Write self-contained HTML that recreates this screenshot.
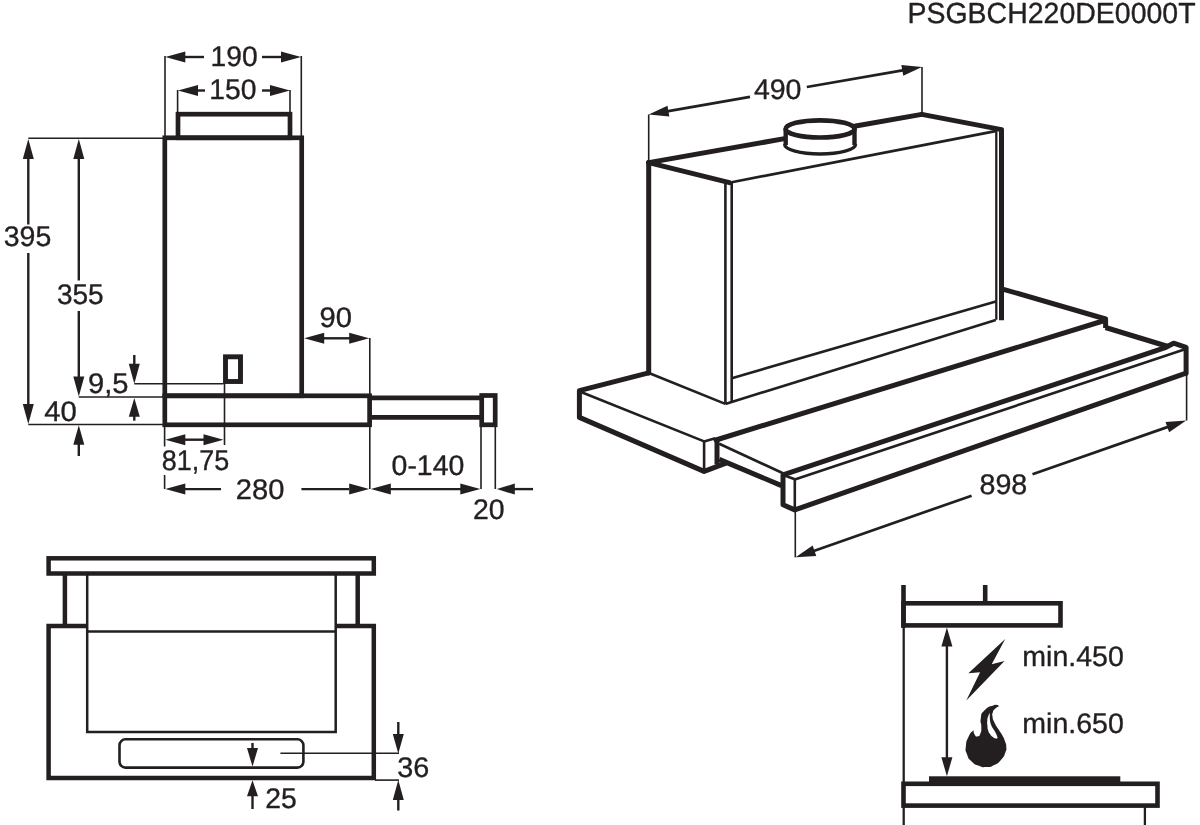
<!DOCTYPE html>
<html lang="en">
<head>
<meta charset="utf-8">
<title>PSGBCH220DE0000T</title>
<style>
html,body{margin:0;padding:0;background:#fff;}
body{width:1200px;height:825px;overflow:hidden;}
svg{display:block;will-change:transform;}
svg text{font-family:"Liberation Sans",sans-serif;fill:#231f20;stroke:#231f20;stroke-width:0.35px;stroke-linejoin:round;text-rendering:geometricPrecision;}
</style>
</head>
<body>
<svg width="1200" height="825" viewBox="0 0 1200 825" stroke="#231f20" fill="none">
<text transform="translate(907.47,23.11) scale(0.9994,1.02)" font-size="28.5">PSGBCH220DE0000T</text>
<rect x="178" y="114.2" width="112" height="23.6" rx="0" fill="none" stroke-width="4.7"/>
<rect x="164.8" y="137.8" width="136.9" height="258.0" rx="0" fill="none" stroke-width="4.7"/>
<rect x="164.8" y="395.8" width="204.8" height="29.0" rx="0" fill="none" stroke-width="4.7"/>
<line x1="369.6" y1="397.8" x2="481.7" y2="397.8" stroke-width="4.7" stroke-linecap="butt"/>
<line x1="369.6" y1="417.3" x2="481.7" y2="417.3" stroke-width="4.7" stroke-linecap="butt"/>
<rect x="481.7" y="395.5" width="13.5" height="29.3" rx="0" fill="none" stroke-width="4.7"/>
<rect x="225.5" y="356.8" width="15.0" height="24.7" rx="0" fill="none" stroke-width="4.9"/>
<line x1="165" y1="56" x2="165" y2="137" stroke-width="1.6" stroke-linecap="butt"/>
<line x1="301.3" y1="56" x2="301.3" y2="137" stroke-width="1.6" stroke-linecap="butt"/>
<polygon points="165.3,57 185.3,51.5 185.3,62.5" fill="#231f20" stroke="none"/>
<polygon points="301,57 281.0,62.5 281.0,51.5" fill="#231f20" stroke="none"/>
<line x1="185" y1="57" x2="204" y2="57" stroke-width="2.4000000000000004" stroke-linecap="butt"/>
<line x1="262" y1="57" x2="282" y2="57" stroke-width="2.4000000000000004" stroke-linecap="butt"/>
<text transform="translate(210.58,66.47) scale(0.9941,1.0)" font-size="28.4">190</text>
<line x1="177.6" y1="90" x2="177.6" y2="113" stroke-width="1.6" stroke-linecap="butt"/>
<line x1="290" y1="90" x2="290" y2="113" stroke-width="1.6" stroke-linecap="butt"/>
<polygon points="178,90.5 198.0,85.0 198.0,96.0" fill="#231f20" stroke="none"/>
<polygon points="290,90.5 270.0,96.0 270.0,85.0" fill="#231f20" stroke="none"/>
<line x1="197" y1="90.5" x2="205" y2="90.5" stroke-width="2.4000000000000004" stroke-linecap="butt"/>
<line x1="262" y1="90.5" x2="271" y2="90.5" stroke-width="2.4000000000000004" stroke-linecap="butt"/>
<text transform="translate(209.18,99.02) scale(0.9963,1.0)" font-size="28.4">150</text>
<line x1="28.3" y1="138.3" x2="163" y2="138.3" stroke-width="1.6" stroke-linecap="butt"/>
<line x1="28.3" y1="424.5" x2="163" y2="424.5" stroke-width="1.6" stroke-linecap="butt"/>
<polygon points="28.3,139 33.8,159.0 22.8,159.0" fill="#231f20" stroke="none"/>
<polygon points="28.3,424 22.8,404.0 33.8,404.0" fill="#231f20" stroke="none"/>
<line x1="28.3" y1="157" x2="28.3" y2="224.5" stroke-width="2.4000000000000004" stroke-linecap="butt"/>
<line x1="28.3" y1="253" x2="28.3" y2="406" stroke-width="2.4000000000000004" stroke-linecap="butt"/>
<text transform="translate(3.76,245.92) scale(1.0041,1.0)" font-size="28.4">395</text>
<line x1="78.8" y1="397" x2="163" y2="397" stroke-width="1.6" stroke-linecap="butt"/>
<polygon points="78.8,139 84.3,159.0 73.3,159.0" fill="#231f20" stroke="none"/>
<polygon points="78.8,396.5 73.3,376.5 84.3,376.5" fill="#231f20" stroke="none"/>
<line x1="78.8" y1="157" x2="78.8" y2="280.5" stroke-width="2.4000000000000004" stroke-linecap="butt"/>
<line x1="78.8" y1="311" x2="78.8" y2="378" stroke-width="2.4000000000000004" stroke-linecap="butt"/>
<text transform="translate(56.88,304.02) scale(0.9886,1.0)" font-size="28.4">355</text>
<text transform="translate(44.27,420.97) scale(1.0312,1.0)" font-size="28.4">40</text>
<polygon points="78.8,425.2 84.3,444.8 73.3,444.8" fill="#231f20" stroke="none"/>
<line x1="78.8" y1="443" x2="78.8" y2="456" stroke-width="2.4000000000000004" stroke-linecap="butt"/>
<text transform="translate(87.99,393.42) scale(1.0253,1.0)" font-size="28.4">9,5</text>
<line x1="134.3" y1="383.8" x2="223.5" y2="383.8" stroke-width="1.6" stroke-linecap="butt"/>
<polygon points="134.3,383.8 128.8,363.8 139.8,363.8" fill="#231f20" stroke="none"/>
<line x1="134.3" y1="355" x2="134.3" y2="365" stroke-width="2.4000000000000004" stroke-linecap="butt"/>
<polygon points="134.3,398 139.8,416.7 128.8,416.7" fill="#231f20" stroke="none"/>
<line x1="134.3" y1="415" x2="134.3" y2="420.7" stroke-width="2.4000000000000004" stroke-linecap="butt"/>
<line x1="224.5" y1="383" x2="224.5" y2="445" stroke-width="1.6" stroke-linecap="butt"/>
<line x1="164.6" y1="426" x2="164.6" y2="446.5" stroke-width="1.6" stroke-linecap="butt"/>
<polygon points="165.3,439.7 185.3,434.2 185.3,445.2" fill="#231f20" stroke="none"/>
<polygon points="223.5,439.7 203.5,445.2 203.5,434.2" fill="#231f20" stroke="none"/>
<line x1="185" y1="439.7" x2="205" y2="439.7" stroke-width="2.4000000000000004" stroke-linecap="butt"/>
<text transform="translate(161.69,470.32) scale(0.9492,1.0)" font-size="28.4">81,75</text>
<line x1="164.6" y1="475" x2="164.6" y2="489" stroke-width="1.6" stroke-linecap="butt"/>
<polygon points="165.3,489.1 185.3,483.6 185.3,494.6" fill="#231f20" stroke="none"/>
<line x1="185" y1="489.1" x2="221" y2="489.1" stroke-width="2.4000000000000004" stroke-linecap="butt"/>
<text transform="translate(235.84,498.72) scale(1.0251,1.0)" font-size="28.4">280</text>
<line x1="301.4" y1="489.1" x2="349" y2="489.1" stroke-width="2.4000000000000004" stroke-linecap="butt"/>
<polygon points="369.2,489.1 349.2,494.6 349.2,483.6" fill="#231f20" stroke="none"/>
<line x1="369.8" y1="338" x2="369.8" y2="489" stroke-width="1.6" stroke-linecap="butt"/>
<line x1="481" y1="426" x2="481" y2="489" stroke-width="1.6" stroke-linecap="butt"/>
<polygon points="370.8,489.1 390.8,483.6 390.8,494.6" fill="#231f20" stroke="none"/>
<polygon points="480.3,489.1 460.3,494.6 460.3,483.6" fill="#231f20" stroke="none"/>
<line x1="390" y1="489.1" x2="461" y2="489.1" stroke-width="2.4000000000000004" stroke-linecap="butt"/>
<text transform="translate(391.56,474.82) scale(1.0024,1.0)" font-size="28.4">0-140</text>
<line x1="495.3" y1="426" x2="495.3" y2="489" stroke-width="1.6" stroke-linecap="butt"/>
<polygon points="496.8,489.1 514.8,483.6 514.8,494.6" fill="#231f20" stroke="none"/>
<line x1="514" y1="489.1" x2="533" y2="489.1" stroke-width="2.4000000000000004" stroke-linecap="butt"/>
<text transform="translate(473.08,519.32) scale(0.9997,1.0)" font-size="28.4">20</text>
<polygon points="304.2,338.3 324.2,332.8 324.2,343.8" fill="#231f20" stroke="none"/>
<polygon points="369.2,338.3 349.2,343.8 349.2,332.8" fill="#231f20" stroke="none"/>
<line x1="323" y1="338.3" x2="350" y2="338.3" stroke-width="2.4000000000000004" stroke-linecap="butt"/>
<text transform="translate(319.59,326.72) scale(1.0256,1.0)" font-size="28.4">90</text>
<rect x="48.6" y="558.3" width="325.2" height="15.2" rx="0" fill="none" stroke-width="4.5"/>
<polyline points="87.1,626 48.6,626 48.6,778 373.8,778 373.8,626 335.7,626" fill="none" stroke-width="4.5" stroke-linejoin="miter" stroke-linecap="butt"/>
<line x1="64.9" y1="573.5" x2="64.9" y2="626" stroke-width="4.5" stroke-linecap="butt"/>
<line x1="357.7" y1="573.5" x2="357.7" y2="626" stroke-width="4.5" stroke-linecap="butt"/>
<polyline points="87.2,573.5 87.2,732.1 335.7,732.1 335.7,573.5" fill="none" stroke-width="2.5" stroke-linejoin="miter" stroke-linecap="butt"/>
<line x1="87.2" y1="631.4" x2="335.7" y2="631.4" stroke-width="2.5" stroke-linecap="butt"/>
<rect x="119.5" y="739.3" width="183.9" height="28.3" rx="6" fill="none" stroke-width="2.6"/>
<polygon points="252.5,766.6 247.0,748.1 258.0,748.1" fill="#231f20" stroke="none"/>
<line x1="252.5" y1="743" x2="252.5" y2="750" stroke-width="2.4000000000000004" stroke-linecap="butt"/>
<polygon points="252.5,780.3 258.0,796.3 247.0,796.3" fill="#231f20" stroke="none"/>
<line x1="252.5" y1="795" x2="252.5" y2="809" stroke-width="2.4000000000000004" stroke-linecap="butt"/>
<text transform="translate(265.28,807.92) scale(0.9977,1.0)" font-size="28.4">25</text>
<line x1="280.4" y1="753.2" x2="399" y2="753.2" stroke-width="1.6" stroke-linecap="butt"/>
<line x1="375" y1="780.1" x2="399" y2="780.1" stroke-width="1.6" stroke-linecap="butt"/>
<polygon points="398.3,753.4 392.8,733.9 403.8,733.9" fill="#231f20" stroke="none"/>
<line x1="398.3" y1="722" x2="398.3" y2="736" stroke-width="2.4000000000000004" stroke-linecap="butt"/>
<polygon points="398.3,780.1 403.8,800.1 392.8,800.1" fill="#231f20" stroke="none"/>
<line x1="398.3" y1="798" x2="398.3" y2="810.5" stroke-width="2.4000000000000004" stroke-linecap="butt"/>
<text transform="translate(397.15,776.52) scale(1.0153,1.0)" font-size="28.4">36</text>
<line x1="903.5" y1="585" x2="903.5" y2="627.7" stroke-width="4.6" stroke-linecap="butt"/>
<line x1="903.7" y1="626" x2="903.7" y2="825" stroke-width="2.3" stroke-linecap="butt"/>
<rect x="903.5" y="603.3" width="157.0" height="22.1" rx="0" fill="none" stroke-width="4.6"/>
<line x1="985.2" y1="585" x2="985.2" y2="603.3" stroke-width="4.6" stroke-linecap="butt"/>
<line x1="946.9" y1="640" x2="946.9" y2="760" stroke-width="2.4000000000000004" stroke-linecap="butt"/>
<polygon points="946.9,627.6 952.4,646.6 941.4,646.6" fill="#231f20" stroke="none"/>
<polygon points="946.9,776.3 941.4,757.3 952.4,757.3" fill="#231f20" stroke="none"/>
<rect x="929" y="776.3" width="191.3" height="7.5" fill="#231f20" stroke="none"/>
<rect x="903.5" y="783.8" width="254.0" height="21.8" rx="0" fill="none" stroke-width="4.6"/>
<line x1="1144.9" y1="807" x2="1144.9" y2="825" stroke-width="2.3" stroke-linecap="butt"/>
<text transform="translate(1022.35,665.92) scale(1.0049,1.0)" font-size="28.4">min.450</text>
<text transform="translate(1022.35,733.02) scale(1.0049,1.0)" font-size="28.4">min.650</text>
<polygon points="1005.2,639.1 968.4,673.3 980.1,672.2 966.3,700.4 1004.5,661.1 991.7,664.2" fill="#231f20" stroke="none"/>
<path d="M999.4,706.0 C997.40,705.80 998.43,703.90 993.4,705.4 C988.37,706.90 988.50,706.13 984.3,710.5 C980.10,714.87 981.80,713.17 980.8,718.5 C979.80,723.83 981.40,721.60 981.3,726.5 C981.20,731.40 981.77,729.90 980.5,733.2 C979.23,736.50 979.47,735.97 977.5,736.4 C975.53,736.83 975.93,736.57 974.6,734.5 C973.27,732.43 973.87,731.63 973.5,730.2 C971.93,732.20 971.33,730.93 968.8,736.2 C966.27,741.47 966.50,740.00 965.9,746 C965.30,752.00 965.07,749.03 967,754.2 C968.93,759.37 967.70,757.63 971.7,761.5 C975.70,765.37 974.13,763.93 979,765.8 C983.87,767.67 981.20,767.33 986.3,767.1 C991.40,766.87 989.23,767.70 994.3,765.1 C999.37,762.50 997.77,763.67 1001.5,759.3 C1005.23,754.93 1003.90,756.03 1005.5,752 C1007.10,747.97 1006.40,750.60 1006.3,747.2 C1006.20,743.80 1006.53,745.77 1005.2,741.8 C1003.87,737.83 1004.50,739.40 1002.3,735.3 C1000.10,731.20 1001.27,733.87 998.6,729.5 C995.93,725.13 996.33,726.53 994.3,722.2 C992.27,717.87 993.00,719.73 992.5,716.5 C992.00,713.27 992.03,715.00 992.8,712.5 C993.57,710.00 992.60,711.17 994.8,709.0 C997.00,706.83 997.87,707.00 999.4,706.0 Z" fill="#231f20" stroke="none"/>
<path d="M989.9,712.7 C989.33,713.87 989.07,713.53 988.2,716.2 C987.33,718.87 987.57,717.60 987.3,720.7 C987.03,723.80 987.10,722.23 987.4,725.5 C987.70,728.77 987.33,727.67 988.2,730.5 C989.07,733.33 988.47,731.83 990.0,734.0 C991.53,736.17 990.90,735.50 992.8,737.0 C994.70,738.50 994.07,738.17 995.7,738.5 C997.33,738.83 997.03,738.17 997.7,738.0 C997.13,736.50 997.23,736.17 996.0,733.5 C994.77,730.83 995.30,732.17 994.0,730.0 C992.70,727.83 993.20,729.13 992.1,727.0 C991.00,724.87 991.40,725.93 990.7,723.6 C990.00,721.27 990.30,722.53 990.0,720.0 C989.70,717.47 989.83,718.43 989.8,716.0 C989.77,713.57 989.87,713.80 989.9,712.7 Z" fill="#fff" stroke="none"/>
<line x1="648.7" y1="114.5" x2="648.7" y2="162" stroke-width="1.6" stroke-linecap="butt"/>
<line x1="922" y1="67" x2="922" y2="113.5" stroke-width="1.6" stroke-linecap="butt"/>
<polygon points="648.7,114.5 667.46,105.66 669.35,116.49" fill="#231f20" stroke="none"/>
<polygon points="922,67 903.24,75.84 901.35,65.01" fill="#231f20" stroke="none"/>
<line x1="667" y1="111.31942919868277" x2="750" y2="96.89388949871936" stroke-width="2.7" stroke-linecap="butt"/>
<line x1="806.8" y1="87.0219538968167" x2="904" y2="70.12843029637762" stroke-width="2.7" stroke-linecap="butt"/>
<text transform="translate(753.89,98.82) scale(1.0048,1.0)" font-size="28.4">490</text>
<line x1="648.6" y1="162.6" x2="784.5" y2="138.62" stroke-width="5.0" stroke-linecap="round"/>
<line x1="855.6" y1="126.08" x2="921.8" y2="114.4" stroke-width="5.0" stroke-linecap="round"/>
<line x1="648.6" y1="162.6" x2="729.5" y2="182.6" stroke-width="5.0" stroke-linecap="round"/>
<line x1="921.8" y1="114.4" x2="1001.5" y2="129.6" stroke-width="5.0" stroke-linecap="round"/>
<line x1="731.6" y1="182.2" x2="995.6" y2="131.1" stroke-width="2.6" stroke-linecap="butt"/>
<line x1="1001.5" y1="129.6" x2="1001.5" y2="320.3" stroke-width="5.0" stroke-linecap="butt"/>
<line x1="996.3" y1="131" x2="996.3" y2="319.8" stroke-width="2.3" stroke-linecap="butt"/>
<line x1="648.7" y1="162.6" x2="648.7" y2="373" stroke-width="5.0" stroke-linecap="round"/>
<line x1="725.4" y1="182.5" x2="725.4" y2="403.9" stroke-width="2.6" stroke-linecap="butt"/>
<line x1="731.7" y1="182.5" x2="731.7" y2="402" stroke-width="2.6" stroke-linecap="butt"/>
<line x1="725.3" y1="403.9" x2="995.8" y2="320.1" stroke-width="2.6" stroke-linecap="butt"/>
<line x1="731.8" y1="378.2" x2="995.8" y2="301.6" stroke-width="2.6" stroke-linecap="butt"/>
<line x1="649.5" y1="373.2" x2="725.3" y2="403.9" stroke-width="2.6" stroke-linecap="butt"/>
<ellipse cx="820.1" cy="128.9" rx="34.5" ry="8.6" fill="none" stroke-width="4.7"/>
<line x1="785.7" y1="128.6" x2="785.7" y2="145" stroke-width="4.4" stroke-linecap="butt"/>
<line x1="854.5" y1="128.6" x2="854.5" y2="145" stroke-width="4.4" stroke-linecap="butt"/>
<path d="M784.6,144.3 A35.4,9.6 0 0 0 855.6,144.3" fill="none" stroke-width="3.4"/>
<polyline points="648.6,372.8 579.4,390.7 579.4,417.4 704.1,471.4 725.3,463.4" fill="none" stroke-width="5.0" stroke-linejoin="round" stroke-linecap="round"/>
<line x1="581.6" y1="392.3" x2="704.1" y2="441.4" stroke-width="2.6" stroke-linecap="butt"/>
<line x1="704.1" y1="441.4" x2="704.1" y2="470.4" stroke-width="2.6" stroke-linecap="butt"/>
<line x1="704.1" y1="441.4" x2="715.2" y2="438.2" stroke-width="2.6" stroke-linecap="butt"/>
<line x1="717" y1="439" x2="717" y2="464.4" stroke-width="5.0" stroke-linecap="butt"/>
<line x1="716" y1="440" x2="1104.6" y2="320.5" stroke-width="5.0" stroke-linecap="round"/>
<polyline points="1003.5,289.3 1105.6,319 1105.6,328" fill="none" stroke-width="5.0" stroke-linejoin="round" stroke-linecap="butt"/>
<line x1="1105.5" y1="327.5" x2="1168" y2="346.5" stroke-width="5.0" stroke-linecap="butt"/>
<line x1="719.2" y1="443.8" x2="783" y2="473.2" stroke-width="2.6" stroke-linecap="butt"/>
<line x1="719.2" y1="459.4" x2="781.5" y2="485.6" stroke-width="5.0" stroke-linecap="butt"/>
<polyline points="1186.1,373.2 1186.1,347.4 1173.6,343.2 1166,347.3 783,474.9 783,504.8 794.8,509.9 1186.1,373.2" fill="none" stroke-width="5.0" stroke-linejoin="round" stroke-linecap="round"/>
<line x1="794.8" y1="479.6" x2="1185" y2="349.3" stroke-width="2.6" stroke-linecap="butt"/>
<line x1="794.8" y1="479.2" x2="794.8" y2="509.4" stroke-width="2.6" stroke-linecap="butt"/>
<line x1="784.5" y1="475.5" x2="794.8" y2="479.2" stroke-width="2.6" stroke-linecap="butt"/>
<line x1="795.3" y1="510.4" x2="795.3" y2="557.3" stroke-width="1.6" stroke-linecap="butt"/>
<line x1="1186.6" y1="373.2" x2="1186.6" y2="420.5" stroke-width="1.6" stroke-linecap="butt"/>
<polygon points="795.6,557.3 812.66,545.5 816.29,555.88" fill="#231f20" stroke="none"/>
<polygon points="1186.2,420.5 1169.14,432.3 1165.51,421.92" fill="#231f20" stroke="none"/>
<line x1="813" y1="551.2059907834101" x2="971.6" y2="495.6594470046083" stroke-width="2.7" stroke-linecap="butt"/>
<line x1="1032.5" y1="474.33041474654374" x2="1168" y2="426.8741935483871" stroke-width="2.7" stroke-linecap="butt"/>
<text transform="translate(979.46,494.42) scale(1.0084,1.0)" font-size="28.4">898</text>
</svg>
</body>
</html>
